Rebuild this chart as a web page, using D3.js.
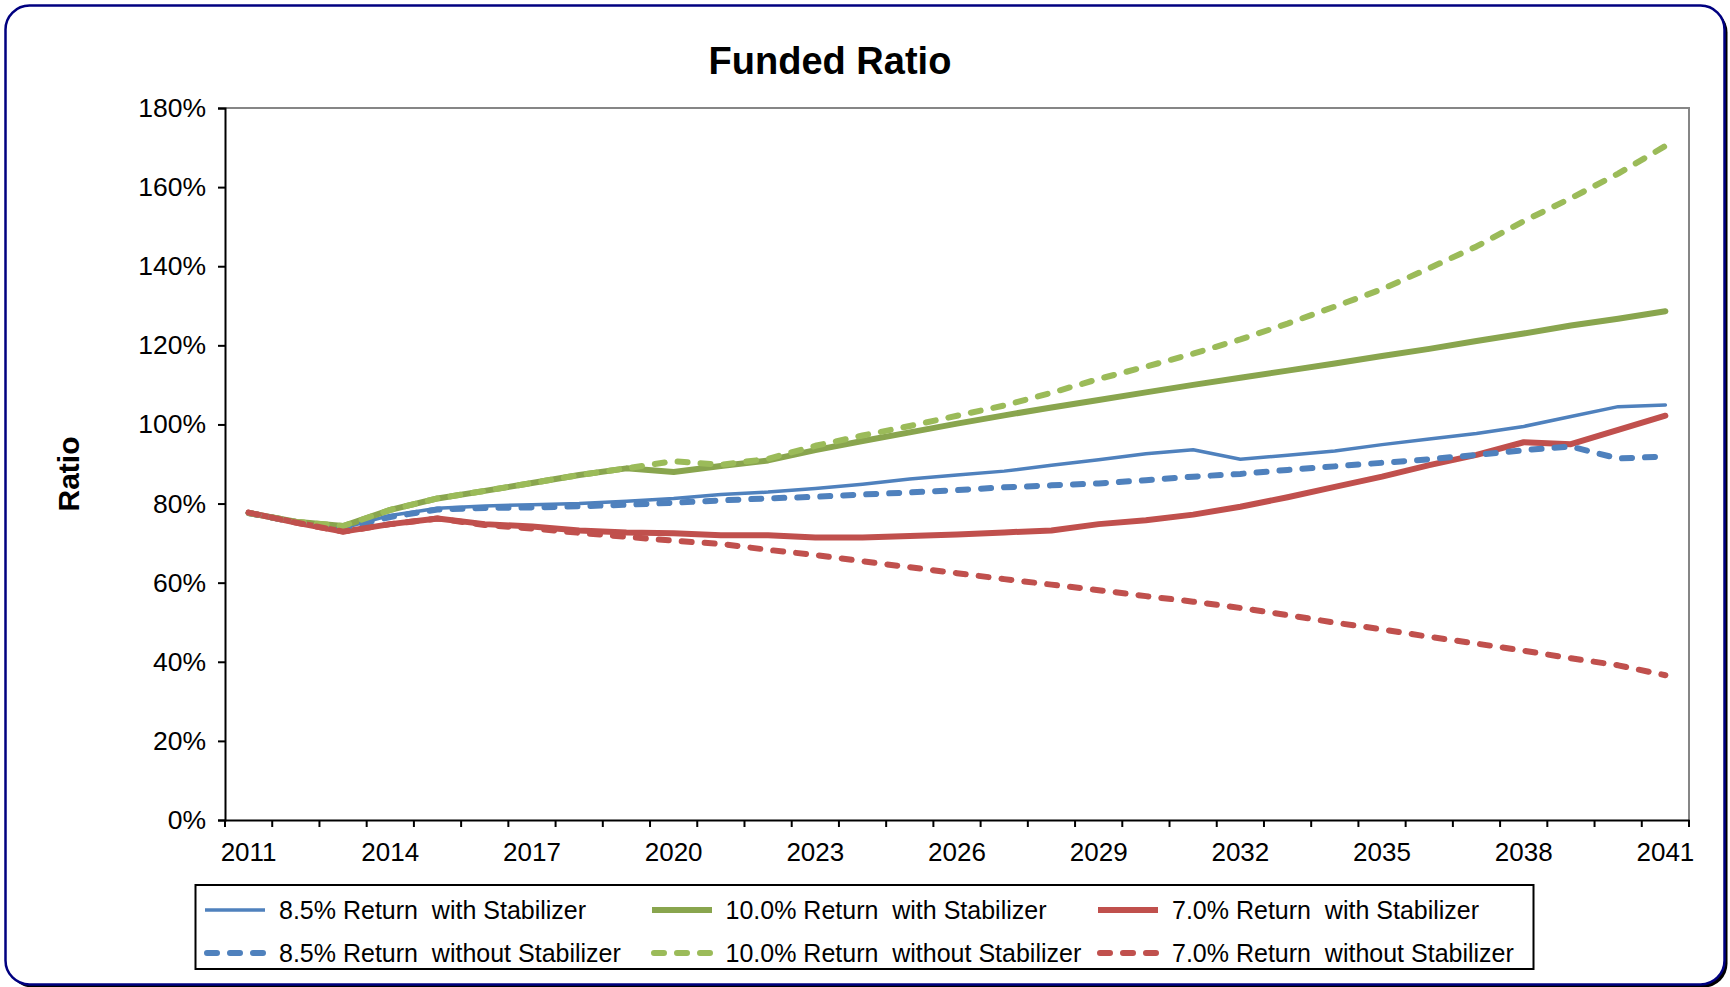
<!DOCTYPE html>
<html lang="en">
<head>
    <meta charset="UTF-8">
    <title>Funded Ratio</title>
    <script src="https://d3js.org/d3.v7.min.js"></script>
    <style>
        body { margin: 0; background: #fff; }
        text { font-family: "Liberation Sans", Arial, sans-serif; fill: #000; }
    </style>
</head>
<body>
    <script>
        // categories and values (percent)
        const years = ["2011","2012","2013","2014","2015","2016","2017","2018","2019","2020",
                       "2021","2022","2023","2024","2025","2026","2027","2028","2029","2030",
                       "2031","2032","2033","2034","2035","2036","2037","2038","2039","2040","2041"];
        const yearLabels = ["2011","2014","2017","2020","2023","2026","2029","2032","2035","2038","2041"];
        const yTicks = [0, 20, 40, 60, 80, 100, 120, 140, 160, 180];

        const ret85With = [77.6,75.3,73.8,77.0,78.8,79.4,79.7,80.0,80.6,81.3,82.3,82.9,83.8,84.9,86.2,87.2,88.2,89.7,91.1,92.6,
                           93.6,91.2,92.2,93.3,94.9,96.3,97.7,99.5,102.0,104.5,104.9];
        const ret100With = [77.6,75.4,74.3,78.4,81.3,83.2,85.2,87.2,88.9,88.0,89.5,90.9,93.5,95.8,98.0,100.2,102.3,104.3,106.2,108.1,
                            110.0,111.8,113.6,115.4,117.3,119.1,121.1,123.0,125.0,126.7,128.6];
        const ret70With = [77.7,75.2,72.9,74.8,76.2,74.8,74.2,73.2,72.7,72.5,72.0,72.0,71.4,71.4,71.8,72.2,72.7,73.2,74.8,75.8,
                           77.2,79.2,81.6,84.2,86.8,89.7,92.3,95.5,95.0,98.6,102.2];
        const ret85Without = [77.6,75.3,73.8,76.6,78.5,78.9,79.0,79.3,79.7,80.2,80.8,81.3,81.7,82.3,82.8,83.4,84.1,84.6,85.1,85.9,
                              86.8,87.5,88.5,89.4,90.3,91.2,92.3,93.5,94.4,91.4,91.9];
        const ret100Without = [77.6,75.4,74.3,78.4,81.3,83.2,85.2,87.2,88.9,90.7,89.8,91.3,94.6,97.2,99.6,102.2,104.8,108.0,111.5,114.6,
                               117.9,121.5,125.5,129.8,134.2,139.5,145.0,151.4,157.2,163.4,170.4];
        const ret70Without = [77.7,75.2,72.9,74.8,76.2,74.6,73.7,72.6,71.6,70.6,69.8,68.3,67.0,65.4,63.9,62.4,60.9,59.5,58.1,56.6,
                              55.2,53.6,51.8,49.9,48.2,46.3,44.6,42.8,40.9,39.1,36.6];

        const series = [
            {name: "8.5% Return  with Stabilizer",     values: ret85With,     color: "#4F81BD", width: 3.5, dash: null},
            {name: "10.0% Return  with Stabilizer",    values: ret100With,    color: "#89A54E", width: 6, dash: null},
            {name: "7.0% Return  with Stabilizer",     values: ret70With,     color: "#C0504D", width: 6, dash: null},
            {name: "8.5% Return  without Stabilizer",  values: ret85Without,  color: "#4F81BD", width: 6, dash: "10,13"},
            {name: "10.0% Return  without Stabilizer", values: ret100Without, color: "#9BBB59", width: 6, dash: "10,13"},
            {name: "7.0% Return  without Stabilizer",  values: ret70Without,  color: "#C0504D", width: 6, dash: "10,13"}
        ];

        const w = 1730, h = 987;
        const plotL = 225, plotR = 1689, plotT = 108, plotB = 820;

        const svg = d3.select("body").append("svg")
            .attr("width", w)
            .attr("height", h);

        // chart frame with shadow
        svg.append("rect")
            .attr("x", 8.5).attr("y", 8.5)
            .attr("width", 1719).attr("height", 979)
            .attr("rx", 24).attr("fill", "#000");
        svg.append("rect")
            .attr("x", 5.5).attr("y", 5.5)
            .attr("width", 1719).attr("height", 979)
            .attr("rx", 24)
            .attr("fill", "#fff")
            .attr("stroke", "#000080")
            .attr("stroke-width", 2.5);

        const x = d3.scaleBand().domain(years).range([plotL, plotR]);
        const y = d3.scaleLinear().domain([0, 180]).range([plotB, plotT]);
        const cx = d => x(d) + x.bandwidth() / 2;

        // plot border (top/right grey)
        svg.append("path")
            .attr("d", `M${plotL},${plotT}H${plotR}V${plotB}`)
            .attr("fill", "none")
            .attr("stroke", "#868686")
            .attr("stroke-width", 2);

        // title
        svg.append("text")
            .attr("x", 830).attr("y", 74)
            .attr("text-anchor", "middle")
            .style("font-size", "38px")
            .style("font-weight", "bold")
            .text("Funded Ratio");

        svg.append("text")
            .attr("transform", "translate(79,474) rotate(-90)")
            .attr("text-anchor", "middle")
            .style("font-size", "30px")
            .style("font-weight", "bold")
            .text("Ratio");

        // lines
        const line = d3.line()
            .x((d, i) => cx(years[i]))
            .y(d => y(d));

        svg.selectAll("path.series")
            .data(series)
            .enter()
            .append("path")
            .attr("class", "series")
            .attr("d", d => line(d.values))
            .attr("fill", "none")
            .attr("stroke", d => d.color)
            .attr("stroke-width", d => d.width)
            .attr("stroke-dasharray", d => d.dash)
            .attr("stroke-linecap", "round")
            .attr("stroke-linejoin", "round");

        // y axis
        const yAxis = d3.axisLeft(y)
            .tickValues(yTicks)
            .tickSize(7)
            .tickPadding(12)
            .tickFormat(d => d + "%");
        const gy = svg.append("g")
            .attr("transform", "translate(" + plotL + ",0)")
            .call(yAxis);
        gy.select(".domain").attr("stroke", "#000").attr("stroke-width", 2);
        gy.selectAll(".tick line").attr("stroke", "#000").attr("stroke-width", 2);
        gy.selectAll("text").style("font-size", "26.5px").attr("fill", "#000");

        // x axis: labels at category centres, ticks at category edges
        const xAxis = d3.axisBottom(x)
            .tickSize(0)
            .tickPadding(23)
            .tickFormat(d => yearLabels.includes(d) ? d : "");
        const gx = svg.append("g")
            .attr("transform", "translate(0," + plotB + ")")
            .call(xAxis);
        gx.select(".domain").attr("stroke", "#000").attr("stroke-width", 2);
        gx.selectAll("text").style("font-size", "26px").attr("fill", "#000");

        const edges = years.map(d => x(d)).concat([x.range()[1]]);
        gx.selectAll("line.edge")
            .data(edges)
            .enter()
            .append("line")
            .attr("class", "edge")
            .attr("x1", d => d).attr("x2", d => d)
            .attr("y1", 0).attr("y2", 7)
            .attr("stroke", "#000")
            .attr("stroke-width", 2);

        // legend
        svg.append("rect")
            .attr("x", 195.5).attr("y", 885)
            .attr("width", 1338).attr("height", 84)
            .attr("fill", "#fff")
            .attr("stroke", "#000")
            .attr("stroke-width", 2);

        const colX = [204, 651, 1097];
        const rowY = [910, 953];

        const items = svg.selectAll("g.legend")
            .data(series)
            .enter()
            .append("g")
            .attr("class", "legend")
            .attr("transform", (d, i) => "translate(" + colX[i % 3] + "," + rowY[Math.floor(i / 3)] + ")");

        items.append("path")
            .attr("d", d => d.dash ? "M3,0H60" : "M1,0H61")
            .attr("stroke", d => d.color)
            .attr("stroke-width", d => d.width)
            .attr("stroke-dasharray", d => d.dash)
            .attr("stroke-linecap", d => d.dash ? "round" : "butt");

        items.append("text")
            .attr("x", d => d.name.startsWith("10.0") ? 74.5 : 75)
            .attr("y", 9)
            .attr("xml:space", "preserve")
            .style("white-space", "pre")
            .style("font-size", "25px")
            .text(d => d.name);
    </script>
</body>
</html>
